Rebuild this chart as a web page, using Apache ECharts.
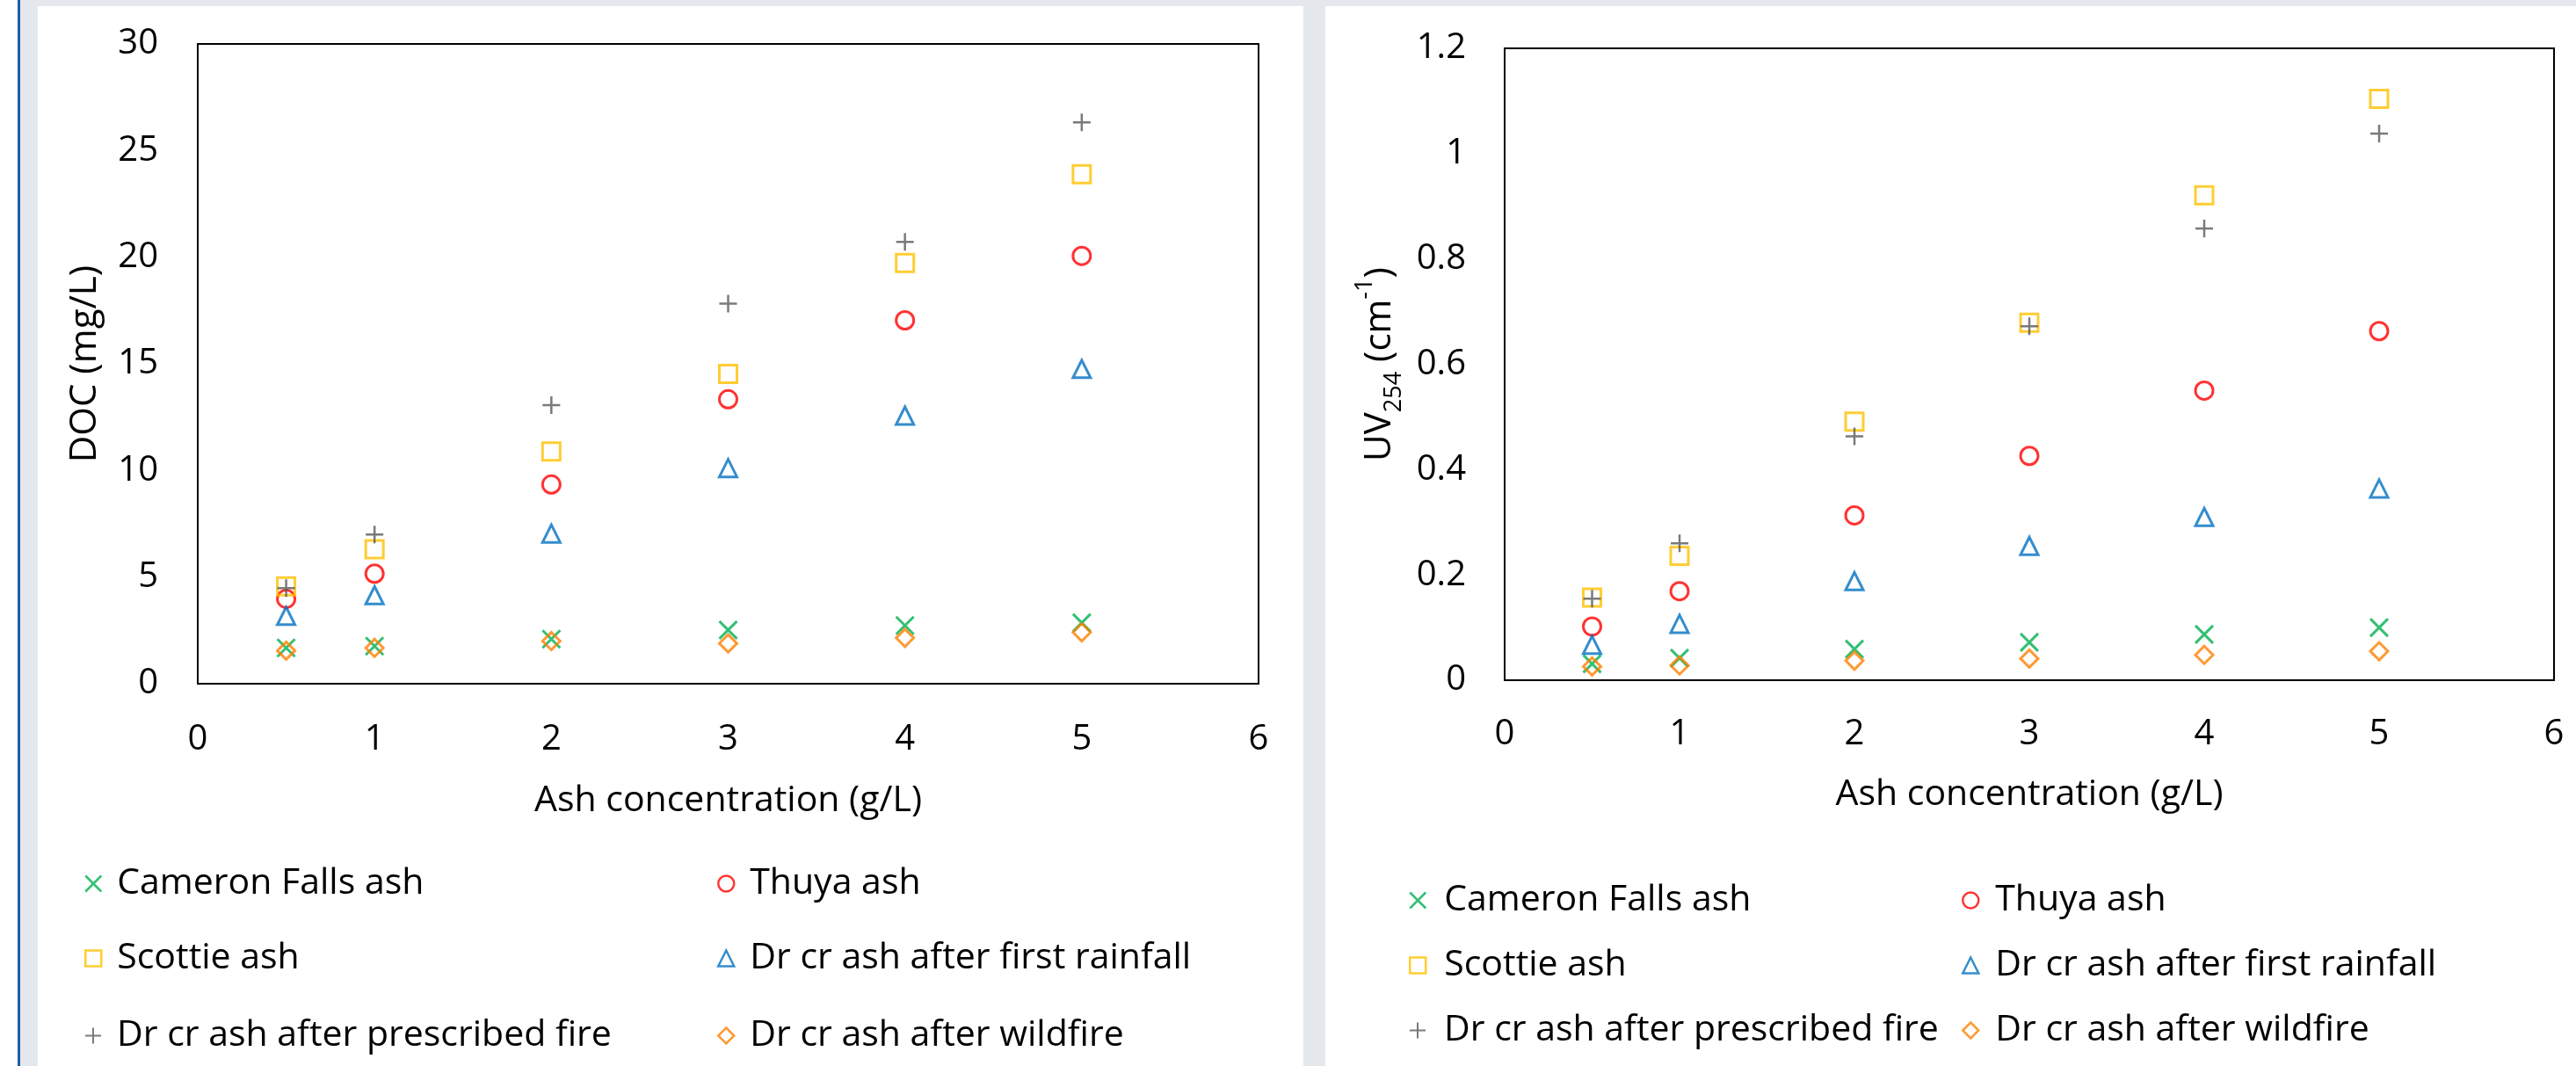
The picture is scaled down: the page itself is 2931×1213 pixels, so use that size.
<!DOCTYPE html>
<html>
<head>
<meta charset="utf-8">
<script src="https://cdn.jsdelivr.net/npm/echarts@6/dist/echarts.min.js"></script>
<style>
  html, body { margin: 0; padding: 0; width: 2931px; height: 1213px; overflow: hidden; background: #e4e8ed; position: relative; }
  .bg { position: absolute; }
  #chart { position: absolute; left: 0; top: 0; width: 2931px; height: 1213px; }
</style>
</head>
<body>
<div class="bg" style="left:0;top:0;width:20px;height:1213px;background:#ffffff"></div>
<div class="bg" style="left:20px;top:0;width:3px;height:1213px;background:#1b5fa6"></div>
<div class="bg" style="left:43px;top:7px;width:1440px;height:1206px;background:#ffffff"></div>
<div class="bg" style="left:1508px;top:7px;width:1423px;height:1206px;background:#ffffff"></div>
<div id="chart"></div>
<script>
// ---- data ----
const ashConc = [0.5, 1, 2, 3, 4, 5];
const seriesNames = [
  'Cameron Falls ash',
  'Thuya ash',
  'Scottie ash',
  'Dr cr ash after first rainfall',
  'Dr cr ash after prescribed fire',
  'Dr cr ash after wildfire'
];
// DOC (mg/L)
const docCameron    = [1.68, 1.76, 2.09, 2.52, 2.73, 2.86];
const docThuya      = [3.98, 5.16, 9.34, 13.34, 17.04, 20.06];
const docScottie    = [4.56, 6.30, 10.89, 14.53, 19.73, 23.89];
const docRainfall   = [3.18, 4.15, 7.04, 10.11, 12.57, 14.76];
const docPrescribed = [4.48, 7.00, 13.06, 17.82, 20.72, 26.32];
const docWildfire   = [1.55, 1.68, 2.00, 1.89, 2.15, 2.41];
// UV254 (cm-1)
const uvCameron    = [0.031, 0.042, 0.059, 0.072, 0.087, 0.100];
const uvThuya      = [0.102, 0.169, 0.313, 0.426, 0.550, 0.663];
const uvScottie    = [0.157, 0.236, 0.491, 0.679, 0.921, 1.104];
const uvRainfall   = [0.067, 0.107, 0.188, 0.255, 0.310, 0.364];
const uvPrescribed = [0.155, 0.260, 0.463, 0.672, 0.858, 1.038];
const uvWildfire   = [0.026, 0.028, 0.037, 0.041, 0.048, 0.055];

const FONT = "'Open Sans', 'Noto Sans', sans-serif";
const styles = [
  { symbol: 'path://M0,0L10,10M10,0L0,10', icon: 'path://M0,0L10,10M10,0L0,10', color: '#00b050', size: 20, bw: 3 },
  { symbol: 'circle', icon: 'circle', color: '#ff0000', size: 20, bw: 3 },
  { symbol: 'rect', icon: 'path://M0,0L10,0L10,10L0,10Z', color: '#ffc000', size: 20, bw: 3 },
  { symbol: 'triangle', icon: 'path://M5,0L10,10L0,10Z', color: '#0070c0', size: 20, bw: 3 },
  { symbol: 'path://M5,0L5,10M0,5L10,5', icon: 'path://M5,0L5,10M0,5L10,5', color: '#595959', size: 20, bw: 2.5 },
  { symbol: 'diamond', icon: 'path://M5,0L10,5L5,10L0,5Z', color: '#ff7f00', size: 20, bw: 3 }
];

function pairs(ys) { return ashConc.map((x, i) => [x, ys[i]]); }

function mkSeries(dataSets, gi) {
  return dataSets.map((ys, i) => ({
    type: 'scatter',
    name: seriesNames[i],
    xAxisIndex: gi, yAxisIndex: gi,
    symbol: styles[i].symbol,
    symbolSize: styles[i].size,
    itemStyle: { color: 'rgba(0,0,0,0)', borderColor: styles[i].color, borderWidth: styles[i].bw },
    emphasis: { disabled: true },
    data: pairs(ys)
  }));
}

function mkLegend(i, left, top, itemWidth) {
  return {
    data: [{ name: seriesNames[i], icon: styles[i].icon }],
    left: left, top: top,
    padding: 0,
    itemWidth: itemWidth, itemHeight: 18,
    symbolKeepAspect: true,
    selectedMode: false,
    itemStyle: { borderWidth: styles[i].bw - 0.5 },
    textStyle: { fontFamily: FONT, fontSize: 41, color: '#000', lineHeight: 40 }
  };
}

const axisLabelStyle = { fontFamily: FONT, fontSize: 40, color: '#000', lineHeight: 40 };

const option = {
  backgroundColor: 'transparent',
  animation: false,
  grid: [
    { left: 225, top: 50, width: 1207, height: 728, show: true, borderColor: '#000', borderWidth: 2, backgroundColor: 'transparent' },
    { left: 1712, top: 55, width: 1194, height: 719, show: true, borderColor: '#000', borderWidth: 2, backgroundColor: 'transparent' }
  ],
  xAxis: [
    { gridIndex: 0, type: 'value', min: 0, max: 6, interval: 1,
      name: 'Ash concentration (g/L)', nameLocation: 'middle', nameGap: 113,
      nameTextStyle: Object.assign({}, axisLabelStyle, { fontSize: 41 }),
      axisLine: { show: false }, axisTick: { show: false }, splitLine: { show: false },
      axisLabel: Object.assign({ margin: 44 }, axisLabelStyle) },
    { gridIndex: 1, type: 'value', min: 0, max: 6, interval: 1,
      name: 'Ash concentration (g/L)', nameLocation: 'middle', nameGap: 110,
      nameTextStyle: Object.assign({}, axisLabelStyle, { fontSize: 41 }),
      axisLine: { show: false }, axisTick: { show: false }, splitLine: { show: false },
      axisLabel: Object.assign({ margin: 42 }, axisLabelStyle) }
  ],
  yAxis: [
    { gridIndex: 0, type: 'value', min: 0, max: 30, interval: 5,
      name: 'DOC (mg/L)', nameLocation: 'middle', nameGap: 107, nameRotate: 90,
      nameTextStyle: { fontFamily: FONT, fontSize: 42, color: '#000', lineHeight: 42 },
      axisLine: { show: false }, axisTick: { show: false }, splitLine: { show: false },
      axisLabel: Object.assign({ margin: 45 }, axisLabelStyle) },
    { gridIndex: 1, type: 'value', min: 0, max: 1.2, interval: 0.2,
      name: '{m|UV}{sub|254}{m| (cm}{sup|-1}{m|)}', nameLocation: 'middle', nameGap: 112, nameRotate: 90,
      nameTextStyle: {
        fontFamily: FONT, fontSize: 42, color: '#000',
        rich: {
          m: { fontFamily: FONT, fontSize: 42, color: '#000', lineHeight: 60, verticalAlign: 'middle' },
          sub: { fontFamily: FONT, fontSize: 27, color: '#000', lineHeight: 25, verticalAlign: 'bottom' },
          sup: { fontFamily: FONT, fontSize: 27, color: '#000', lineHeight: 52, verticalAlign: 'top' }
        }
      },
      axisLine: { show: false }, axisTick: { show: false }, splitLine: { show: false },
      axisLabel: Object.assign({ margin: 44 }, axisLabelStyle) }
  ],
  legend: [
    mkLegend(0, 118 - 22, 1005 - 20, 44),
    mkLegend(1, 838 - 22, 1005 - 20, 44),
    mkLegend(2, 118 - 22, 1090 - 20, 44),
    mkLegend(3, 838 - 22, 1090 - 20, 44),
    mkLegend(4, 118 - 22, 1178 - 20, 44),
    mkLegend(5, 838 - 22, 1178 - 20, 44),
    mkLegend(0, 1628 - 25, 1024 - 20, 50),
    mkLegend(1, 2255 - 23, 1024 - 20, 46),
    mkLegend(2, 1628 - 25, 1098 - 20, 50),
    mkLegend(3, 2255 - 23, 1098 - 20, 46),
    mkLegend(4, 1628 - 25, 1172 - 20, 50),
    mkLegend(5, 2255 - 23, 1172 - 20, 46)
  ],
  series: [].concat(
    mkSeries([docCameron, docThuya, docScottie, docRainfall, docPrescribed, docWildfire], 0),
    mkSeries([uvCameron, uvThuya, uvScottie, uvRainfall, uvPrescribed, uvWildfire], 1)
  )
};

const chart = echarts.init(document.getElementById('chart'), null, { renderer: 'canvas', width: 2931, height: 1213 });
chart.setOption(option);
</script>
</body>
</html>
